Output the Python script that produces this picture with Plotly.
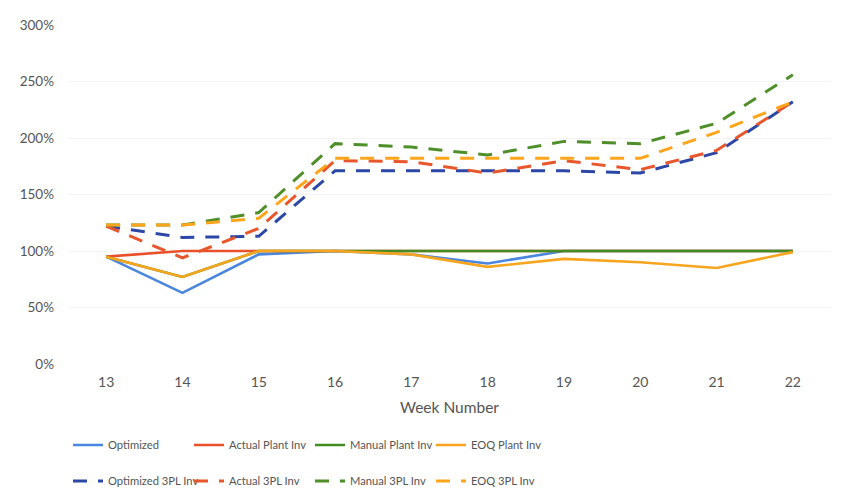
import plotly.graph_objects as go

weeks = [13, 14, 15, 16, 17, 18, 19, 20, 21, 22]

optimized = [95, 63, 97, 100, 97, 89, 100, 100, 100, 100]
actual_plant = [95, 100, 100, 100, 100, 100, 100, 100, 100, 100]
manual_plant = [95, 77, 100, 100, 100, 100, 100, 100, 100, 100]
eoq_plant = [95, 77, 100, 100, 97, 86, 93, 90, 85, 99]

optimized_3pl = [122, 112, 113, 171, 171, 171, 171, 169, 187, 232]
actual_3pl = [122, 94, 120, 180, 179, 169, 180, 172, 189, 232]
manual_3pl = [123, 123, 134, 195, 192, 185, 197, 195, 213, 256]
eoq_3pl = [123, 123, 129, 182, 182, 182, 182, 182, 205, 232]

y_ticks = [0, 50, 100, 150, 200, 250, 300]
y_tick_labels = ["0%", "50%", "100%", "150%", "200%", "250%", "300%"]

series = [
    ("Optimized", optimized, "#4A86DE", "solid", "legend"),
    ("Actual Plant Inv", actual_plant, "#E8512A", "solid", "legend"),
    ("Manual Plant Inv", manual_plant, "#438C22", "solid", "legend"),
    ("EOQ Plant Inv", eoq_plant, "#F7A51E", "solid", "legend"),
    ("Optimized 3PL Inv", optimized_3pl, "#2C47A6", "14px,11px", "legend2"),
    ("Actual 3PL Inv", actual_3pl, "#E8562C", "14px,11px", "legend2"),
    ("Manual 3PL Inv", manual_3pl, "#4F8F2A", "14px,11px", "legend2"),
    ("EOQ 3PL Inv", eoq_3pl, "#FFA51C", "14px,11px", "legend2"),
]

fig = go.Figure()
for name, vals, color, dash, leg in series:
    fig.add_trace(go.Scatter(
        x=weeks, y=vals, name=name, mode="lines",
        line=dict(color=color, width=3 if dash != "solid" else 2.6, dash=dash),
        legend=leg,
    ))

font_family = "Lato, 'Open Sans', sans-serif"
text_color = "#555555"

legend_common = dict(
    orientation="h",
    xanchor="left",
    yanchor="middle",
    x=0.0,
    xref="paper",
    yref="container",
    entrywidth=76,
    entrywidthmode="pixels",
    font=dict(family=font_family, size=11.2, color=text_color),
    bgcolor="rgba(0,0,0,0)",
    itemwidth=30,
    traceorder="normal",
)

fig.update_layout(
    width=843,
    height=499,
    margin=dict(l=68, r=12, t=25, b=135, autoexpand=False),
    paper_bgcolor="white",
    plot_bgcolor="white",
    font=dict(family=font_family, size=14, color=text_color),
    legend=dict(legend_common, y=1 - 445 / 499),
    legend2=dict(legend_common, y=1 - 481 / 499),
    xaxis=dict(
        range=[12.5, 22.5],
        tickmode="array",
        tickvals=weeks,
        ticktext=[str(w) for w in weeks],
        tickfont=dict(size=14),
        showgrid=False,
        zeroline=False,
        showline=False,
        ticks="",
        ticklabelstandoff=8,
        title=dict(text="Week Number", standoff=13,
                   font=dict(family=font_family, size=15.5, color=text_color)),
    ),
    yaxis=dict(
        range=[0, 300],
        tickmode="array",
        tickvals=y_ticks,
        ticktext=y_tick_labels,
        tickfont=dict(size=13.5),
        showgrid=True,
        gridcolor="#f3f3f3",
        gridwidth=1,
        zeroline=False,
        showline=False,
        ticks="",
        ticklabelstandoff=13,
    ),
)

fig.write_html("out.html")
